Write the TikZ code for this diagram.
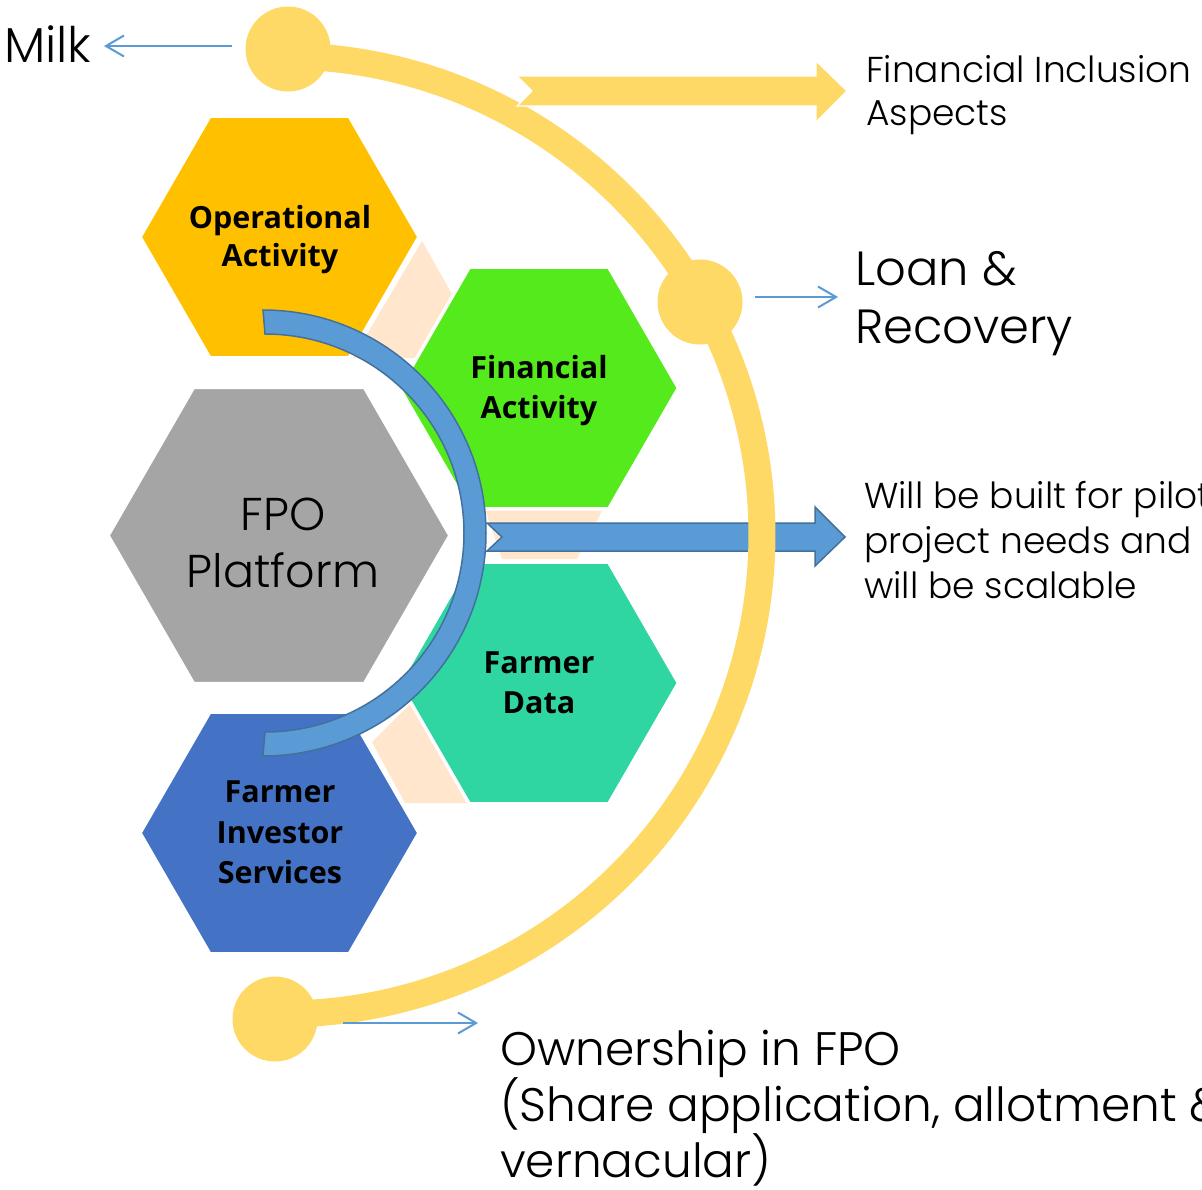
\documentclass[tikz,border=0pt]{standalone}
\usepackage{fontspec}
\setmainfont{Poppins Light}
\newfontfamily\lblfont{Open Sans}
\usetikzlibrary{arrows.meta}
\definecolor{hexorange}{HTML}{FFC000}
\definecolor{hexgreen}{HTML}{55EA1B}
\definecolor{hexgrey}{HTML}{A5A5A5}
\definecolor{hexteal}{HTML}{2FD6A1}
\definecolor{hexblue}{HTML}{4472C4}
\definecolor{peach}{HTML}{FFE6CD}
\definecolor{goldline}{HTML}{FFD966}
\definecolor{skyblue}{HTML}{5B9BD5}
\definecolor{skyedge}{HTML}{41719C}
\newcommand\myhex[4]{\fill[#4, draw=white, line width=3.5]
  ({#1-#3},#2) -- ({#1-0.5*#3},{#2-0.866*#3}) -- ({#1+0.5*#3},{#2-0.866*#3})
  -- ({#1+#3},#2) -- ({#1+0.5*#3},{#2+0.866*#3}) -- ({#1-0.5*#3},{#2+0.866*#3}) -- cycle;}
\begin{document}
\begin{tikzpicture}[x=1pt,y=-1pt,
  hexlbl/.style={anchor=base, inner sep=0, font=\lblfont\bfseries\fontsize{30.5}{36}\selectfont},
  txtA/.style={anchor=base west, inner sep=0, font=\fontsize{36}{42}\selectfont},
  txtB/.style={anchor=base west, inner sep=0, font=\fontsize{47}{56}\selectfont},
  ctrtxt/.style={anchor=base, inner sep=0, font=\fontsize{46}{56}\selectfont},
  dotc/.style={circle, fill=goldline, draw=none, minimum size=85, inner sep=0},
  thinarr/.style={draw=skyblue, line width=2, -{Straight Barb[length=18, width=21, line width=2]}},
  bandarrow/.style={fill=skyblue, draw=skyedge, line width=1.5, line join=miter}
]
\useasboundingbox (0,0) rectangle (1202,1189);
\fill[white] (0,0) rectangle (1202,1189);

% peach connector pieces
\fill[peach] (422,241) -- (452,294) -- (415,358) -- (353,358) -- cycle;
\fill[peach] (485,509) -- (603,509) -- (577,559) -- (502,559) -- cycle;
\fill[peach] (372,742) -- (411,703) -- (468,803) -- (405,803) -- cycle;

% hexagons
\myhex{279.5}{237}{139.5}{hexorange}
\myhex{539}{388}{139.5}{hexgreen}
\myhex{279}{535.5}{171}{hexgrey}
\myhex{539}{683}{139.5}{hexteal}
\myhex{279.5}{833}{139.5}{hexblue}

% blue notched arrow
\path[bandarrow] (487,523) -- (815,523) -- (815,507) -- (845,537) -- (815,566)
  -- (815,551) -- (487,551) -- (502,537) -- cycle;

% blue arc band
\path[bandarrow] (263,310) arc[start angle=-90, end angle=90, radius=223]
  -- (265,732) arc[start angle=90, end angle=-90, radius=199] -- cycle;

% yellow arc
\draw[goldline, line width=27] (288,56) arc[start angle=-89.4, end angle=91, radius=479];

% yellow notched arrow
\path[fill=goldline, draw=white, line width=1.2] (517,76) -- (816,76) -- (816,61) -- (847,91) -- (816,122)
  -- (816,106) -- (517,106) -- (532,91) -- cycle;

% dots
\node[dotc] (topdot) at (288,49) {};
\node[dotc] (middot) at (700,302) {};
\node[dotc] (botdot) at (275,1019) {};

% hex labels
\node[hexlbl] (op1) at (280,228) {Operational};
\node[hexlbl] (op2) at (280,266) {Activity};
\node[hexlbl] (fa1) at (539,378) {Financial};
\node[hexlbl] (fa2) at (539,418) {Activity};
\node[hexlbl] (fd1) at (539,673) {Farmer};
\node[hexlbl] (fd2) at (539,713) {Data};
\node[hexlbl] (fi1) at (280,802) {Farmer};
\node[hexlbl] (fi2) at (280,843) {Investor};
\node[hexlbl] (fi3) at (280,883) {Services};

\node[ctrtxt] (fpo1) at (283,530) {FPO};
\node[ctrtxt] (fpo2) at (283,587) {Platform};

% side texts
\node[txtB, font=\fontsize{49}{56}\selectfont] (milk) at (4,62) {Milk};
\node[txtA] (fin1) at (866,82) {Financial Inclusion};
\node[txtA] (fin2) at (866,125) {Aspects};
\node[txtB, font=\fontsize{48}{56}\selectfont] (loan1) at (855,285) {Loan \&};
\node[txtB, font=\fontsize{48}{56}\selectfont] (loan2) at (855,343) {Recovery};
\node[txtA] (wb1) at (864,508) {Will be built for pilot};
\node[txtA] (wb2) at (864,553) {project needs and};
\node[txtA] (wb3) at (864,598) {will be scalable};
\node[txtB] (own1) at (500,1065) {Ownership in FPO};
\node[txtB] (own2) at (500,1121) {(Share application, allotment \&};
\node[txtB] (own3) at (500,1177) {vernacular)};

% thin arrows
\coordinate (milkstart) at (232,46);
\coordinate (milkend) at (104,46);
\coordinate (loanstart) at (755,297);
\coordinate (loanend) at (838,297);
\coordinate (ownstart) at (343,1023);
\coordinate (ownend) at (478,1023);
\draw[thinarr] (milkstart) -- (milkend);
\draw[thinarr] (loanstart) -- (loanend);
\draw[thinarr] (ownstart) -- (ownend);
\end{tikzpicture}
\end{document}
